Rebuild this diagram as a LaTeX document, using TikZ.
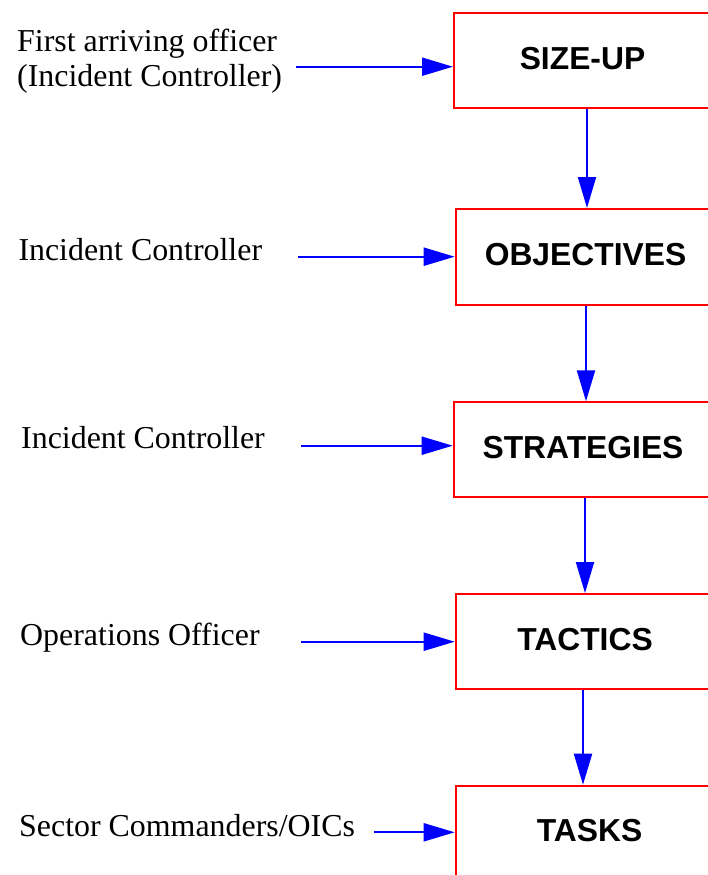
\documentclass[tikz,border=0pt]{standalone}
\usepackage{fontspec}
\setmainfont{Liberation Serif}
\newfontfamily\boxfont{Liberation Sans}
\usetikzlibrary{arrows.meta}

\tikzset{
  stage/.style={draw=red, line width=2pt, minimum height=95pt, inner sep=0pt,
    font=\boxfont\bfseries\fontsize{31.8}{36}\selectfont,
    text height=22pt, text depth=5pt},
  role/.style={anchor=base west, inner sep=0pt,
    font=\fontsize{31.9}{35}\selectfont},
  flow/.style={draw=blue, line width=2.1pt,
    -{Triangle[length=31pt,width=18pt]}}
}

\begin{document}
\begin{tikzpicture}[x=1pt,y=-1pt]
  \useasboundingbox (0,0) rectangle (708,875);
  \clip (0,0) rectangle (708,875);

  % stage boxes (they run past the right edge)
  \node[stage, minimum width=257pt]   (b1) at (582.5,60.8)  {SIZE-UP};
  \node[stage, minimum width=259.6pt, minimum height=96pt] (b2) at (585.5,257) {OBJECTIVES};
  \node[stage, minimum width=258.6pt] (b3) at (583,449.8)   {STRATEGIES};
  \node[stage, minimum width=258.6pt] (b4) at (585,641.5)   {TACTICS};
  \node[stage, minimum width=267.6pt] (b5) at (589.5,833.2) {TASKS};

  % who is responsible at each stage
  \node[role] (r1a) at (17,51.7)  {First arriving officer};
  \node[role] (r1b) at (17,86.7)  {(Incident Controller)};
  \node[role] (r2)  at (18.3,260) {Incident Controller};
  \node[role] (r3)  at (21,448.3) {Incident Controller};
  \node[role] (r4)  at (20,645)   {Operations Officer};
  \node[role] (r5)  at (19,836.7) {Sector Commanders/OICs};

  % vertical flow between stages
  \coordinate (v12) at (587,0);
  \coordinate (v23) at (586,0);
  \coordinate (v34) at (585,0);
  \coordinate (v45) at (583,0);
  \draw[flow] (b1.south -| v12) -- (b2.north -| v12);
  \draw[flow] (b2.south -| v23) -- (b3.north -| v23);
  \draw[flow] (b3.south -| v34) -- (b4.north -| v34);
  \draw[flow] (b4.south -| v45) -- (b5.north -| v45);

  % arrows from the roles into the stages
  \coordinate (s1) at (296,66.7);
  \coordinate (s2) at (298.3,256.7);
  \coordinate (s3) at (301,445.7);
  \coordinate (s4) at (301,641.7);
  \coordinate (s5) at (374,832.3);
  \draw[flow] (s1) -- (s1 -| b1.west);
  \draw[flow] (s2) -- (s2 -| b2.west);
  \draw[flow] (s3) -- (s3 -| b3.west);
  \draw[flow] (s4) -- (s4 -| b4.west);
  \draw[flow] (s5) -- (s5 -| b5.west);
\end{tikzpicture}
\end{document}
